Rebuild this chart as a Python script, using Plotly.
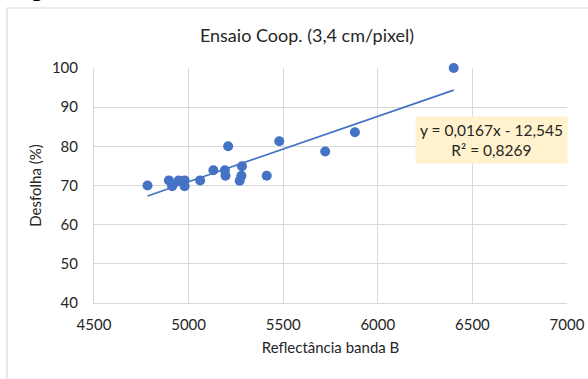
import plotly.graph_objects as go

# Reflectance (band B) vs. defoliation (%) observations
reflectancia = [4783, 4896, 4913, 4948, 4979, 4979, 5061, 5131, 5192, 5195,
                5209, 5282, 5279, 5270, 5413, 5479, 5722, 5879, 6401]
desfolha = [70.0, 71.3, 69.8, 71.3, 71.3, 69.8, 71.3, 73.9, 73.9, 72.5,
            80.0, 74.9, 72.5, 71.2, 72.5, 81.3, 78.7, 83.6, 100.0]

# Linear trendline coefficients
slope = 0.0167
intercept = -12.545
r2 = 0.8269

x_ticks = [4500, 5000, 5500, 6000, 6500, 7000]
y_ticks = [40, 50, 60, 70, 80, 90, 100]

blue = "#4472C4"
grid = "#d9d9d9"
text_color = "#262626"
font_family = "Lato, 'Open Sans', sans-serif"

x_min, x_max = min(reflectancia), max(reflectancia)
trend_x = [x_min, x_max]
trend_y = [slope * v + intercept for v in trend_x]

fig = go.Figure()
fig.add_trace(go.Scatter(
    x=reflectancia, y=desfolha, mode="markers",
    marker=dict(color=blue, size=10, line=dict(width=0)),
    cliponaxis=False, showlegend=False, hoverinfo="x+y",
))
fig.add_trace(go.Scatter(
    x=trend_x, y=trend_y, mode="lines",
    line=dict(color=blue, width=1.6),
    showlegend=False, hoverinfo="skip",
))

def fmt(v, nd):
    return f"{v:.{nd}f}".replace(".", ",")

sign = "-" if intercept < 0 else "+"
eq_text = f"y = {fmt(slope, 4)}x {sign} {fmt(abs(intercept), 3)}<br>R² = {fmt(r2, 4)}"

fig.update_layout(
    template="none",
    width=588, height=379,
    margin=dict(l=94, r=21, t=68, b=76, autoexpand=False),
    paper_bgcolor="white", plot_bgcolor="white",
    font=dict(family=font_family, size=15, color=text_color),
    title=dict(
        text="Ensaio Coop. (3,4 cm/pixel)",
        x=307 / 588, xanchor="center", y=1 - 36 / 379, yanchor="middle",
        font=dict(size=18, color=text_color),
    ),
    xaxis=dict(
        range=[4500, 7000], tickvals=x_ticks, ticktext=[str(t) for t in x_ticks],
        showgrid=True, gridcolor=grid, gridwidth=1,
        showline=True, linecolor=grid, linewidth=1, mirror=False,
        zeroline=False, ticks="", ticklabelstandoff=8, automargin=False,
        tickfont=dict(size=15, color=text_color),
        title=dict(text="Reflectância banda B", standoff=10,
                   font=dict(size=15, color=text_color)),
    ),
    yaxis=dict(
        range=[40, 100], tickvals=y_ticks, ticktext=[str(t) for t in y_ticks],
        showgrid=True, gridcolor=grid, gridwidth=1,
        showline=True, linecolor=grid, linewidth=1,
        zeroline=False, ticks="", ticklabelstandoff=12, automargin=False,
        tickfont=dict(size=15, color=text_color),
        title=dict(text="Desfolha (%)", standoff=6,
                   font=dict(size=15, color=text_color)),
    ),
    shapes=[dict(
        type="rect", xref="paper", yref="paper",
        x0=(7 - 94) / 473, x1=1.3, y0=-0.5, y1=(303 - 8) / 235,
        line=dict(color=grid, width=1.2), fillcolor="rgba(0,0,0,0)", layer="below",
    )],
    annotations=[
        dict(
            text=eq_text, xref="paper", yref="paper",
            x=(491 - 94) / 473, y=(303 - 139.5) / 235,
            xanchor="center", yanchor="middle", showarrow=False, align="center",
            bgcolor="#fff2cc", borderpad=4,
            font=dict(size=15.5, color=text_color),
        ),
        dict(
            text="Fig. 1", xref="paper", yref="paper",
            x=(6 - 94) / 473, y=(303 - 4) / 235,
            xanchor="left", yanchor="bottom", showarrow=False,
            font=dict(family="Liberation Sans, Arial, sans-serif", size=26, color="black"),
        ),
    ],
)

fig.write_html("out.html")
